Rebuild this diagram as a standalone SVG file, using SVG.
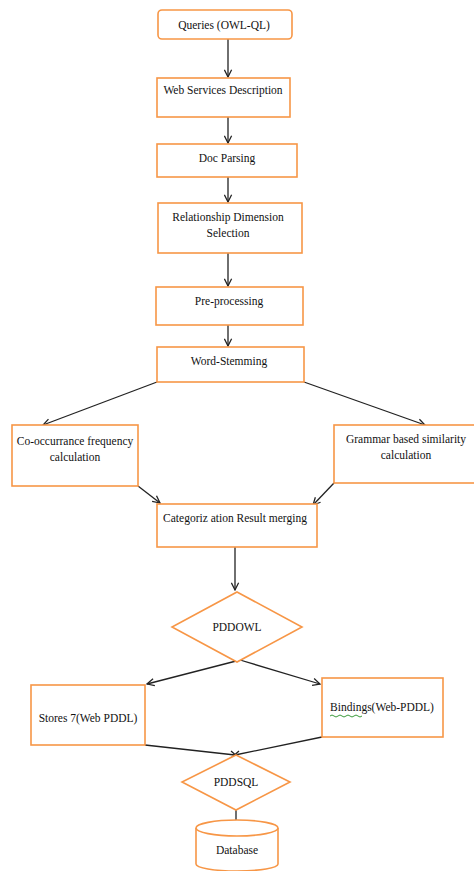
<svg xmlns="http://www.w3.org/2000/svg" width="474" height="871" viewBox="0 0 474 871">
<defs>
<marker id="arr" viewBox="0 0 10 10" refX="9" refY="5" markerWidth="9" markerHeight="9" markerUnits="userSpaceOnUse" orient="auto">
<path d="M1,1 L9,5 L1,9" fill="none" stroke="#222" stroke-width="1.4"/>
</marker>
<style>
.box{fill:#fff;stroke:#F79646;stroke-width:1.6}
.t{font-size:11.5px;fill:#111;text-anchor:middle}
.c{fill:none;stroke:#222;stroke-width:1.3}
</style>
</defs>
<rect width="474" height="871" fill="#fff"/>
<g id="connectors">
<line class="c" x1="228" y1="39" x2="228" y2="77" marker-end="url(#arr)"/>
<line class="c" x1="228" y1="117" x2="228" y2="143" marker-end="url(#arr)"/>
<line class="c" x1="228" y1="177" x2="228" y2="202" marker-end="url(#arr)"/>
<line class="c" x1="228" y1="253" x2="228" y2="286" marker-end="url(#arr)"/>
<line class="c" x1="228" y1="325" x2="228" y2="346" marker-end="url(#arr)"/>
<line class="c" x1="157" y1="382" x2="43" y2="425" marker-end="url(#arr)"/>
<line class="c" x1="304" y1="382" x2="425" y2="425" marker-end="url(#arr)"/>
<line class="c" x1="138" y1="486" x2="160" y2="503" marker-end="url(#arr)"/>
<line class="c" x1="334" y1="483" x2="313" y2="505" marker-end="url(#arr)"/>
<line class="c" x1="235" y1="547" x2="235" y2="590" marker-end="url(#arr)"/>
<line class="c" x1="240" y1="660" x2="147" y2="684" marker-end="url(#arr)"/>
<line class="c" x1="240" y1="660" x2="320" y2="684" marker-end="url(#arr)"/>
<line class="c" x1="145" y1="745" x2="235" y2="755"/>
<line class="c" x1="322" y1="737" x2="235" y2="755"/>
<path class="c" d="M231,751 L239,758 M239,751 L231,758" stroke-width="1.6"/>
<line class="c" x1="236" y1="810" x2="236" y2="837" marker-end="url(#arr)"/>
</g>
<g font-family="'Liberation Serif', 'Times New Roman', serif">
<g id="n1"><rect class="box" x="158" y="10" width="134" height="29" rx="4"/><text class="t" x="224" y="29">Queries (OWL-QL)</text></g>
<g id="n2"><rect class="box" x="157" y="78" width="133" height="39"/><text class="t" x="223" y="94">Web Services Description</text></g>
<g id="n3"><rect class="box" x="157" y="144" width="140" height="33"/><text class="t" x="227" y="162">Doc Parsing</text></g>
<g id="n4"><rect class="box" x="158" y="203" width="144" height="50"/><text class="t" x="228" y="221">Relationship Dimension</text><text class="t" x="228" y="237">Selection</text></g>
<g id="n5"><rect class="box" x="156" y="287" width="147" height="38"/><text class="t" x="229" y="305">Pre-processing</text></g>
<g id="n6"><rect class="box" x="157" y="347" width="147" height="35"/><text class="t" x="229" y="365">Word-Stemming</text></g>
<g id="n7"><rect class="box" x="12" y="425" width="126" height="61"/><text class="t" x="75" y="445">Co-occurrance frequency</text><text class="t" x="75" y="461">calculation</text></g>
<g id="n8"><rect class="box" x="334" y="425" width="142" height="58"/><text class="t" x="406" y="443">Grammar based similarity</text><text class="t" x="406" y="459">calculation</text></g>
<g id="n9"><rect class="box" x="157" y="504" width="160" height="43"/><text class="t" x="235" y="522">Categoriz ation Result merging</text></g>
<g id="n10"><polygon class="box" points="237,592 302,627 237,662 172,627"/><text class="t" x="237" y="631">PDDOWL</text></g>
<g id="n11"><rect class="box" x="31" y="685" width="114" height="60"/><text class="t" x="88" y="722">Stores 7(Web PDDL)</text></g>
<g id="n12"><rect class="box" x="322" y="678" width="121" height="59"/><text class="t" x="382" y="711">Bindings(Web-PDDL)</text><path d="M330,716 q2,-2 4,0 t4,0 t4,0 t4,0 t4,0 t4,0 t4,0 t4,0" fill="none" stroke="#3a9a3a" stroke-width="1"/></g>
<g id="n13"><polygon class="box" points="236,755 290,782 236,810 182,782"/><text class="t" x="236" y="786" font-size="10.5">PDDSQL</text></g>
<g id="n14"><path class="box" d="M196,828 L196,864 A41,7 0 0 0 278,864 L278,828"/><ellipse class="box" cx="237" cy="828" rx="41" ry="8"/><text class="t" x="237" y="854">Database</text></g>
</g>
</svg>
